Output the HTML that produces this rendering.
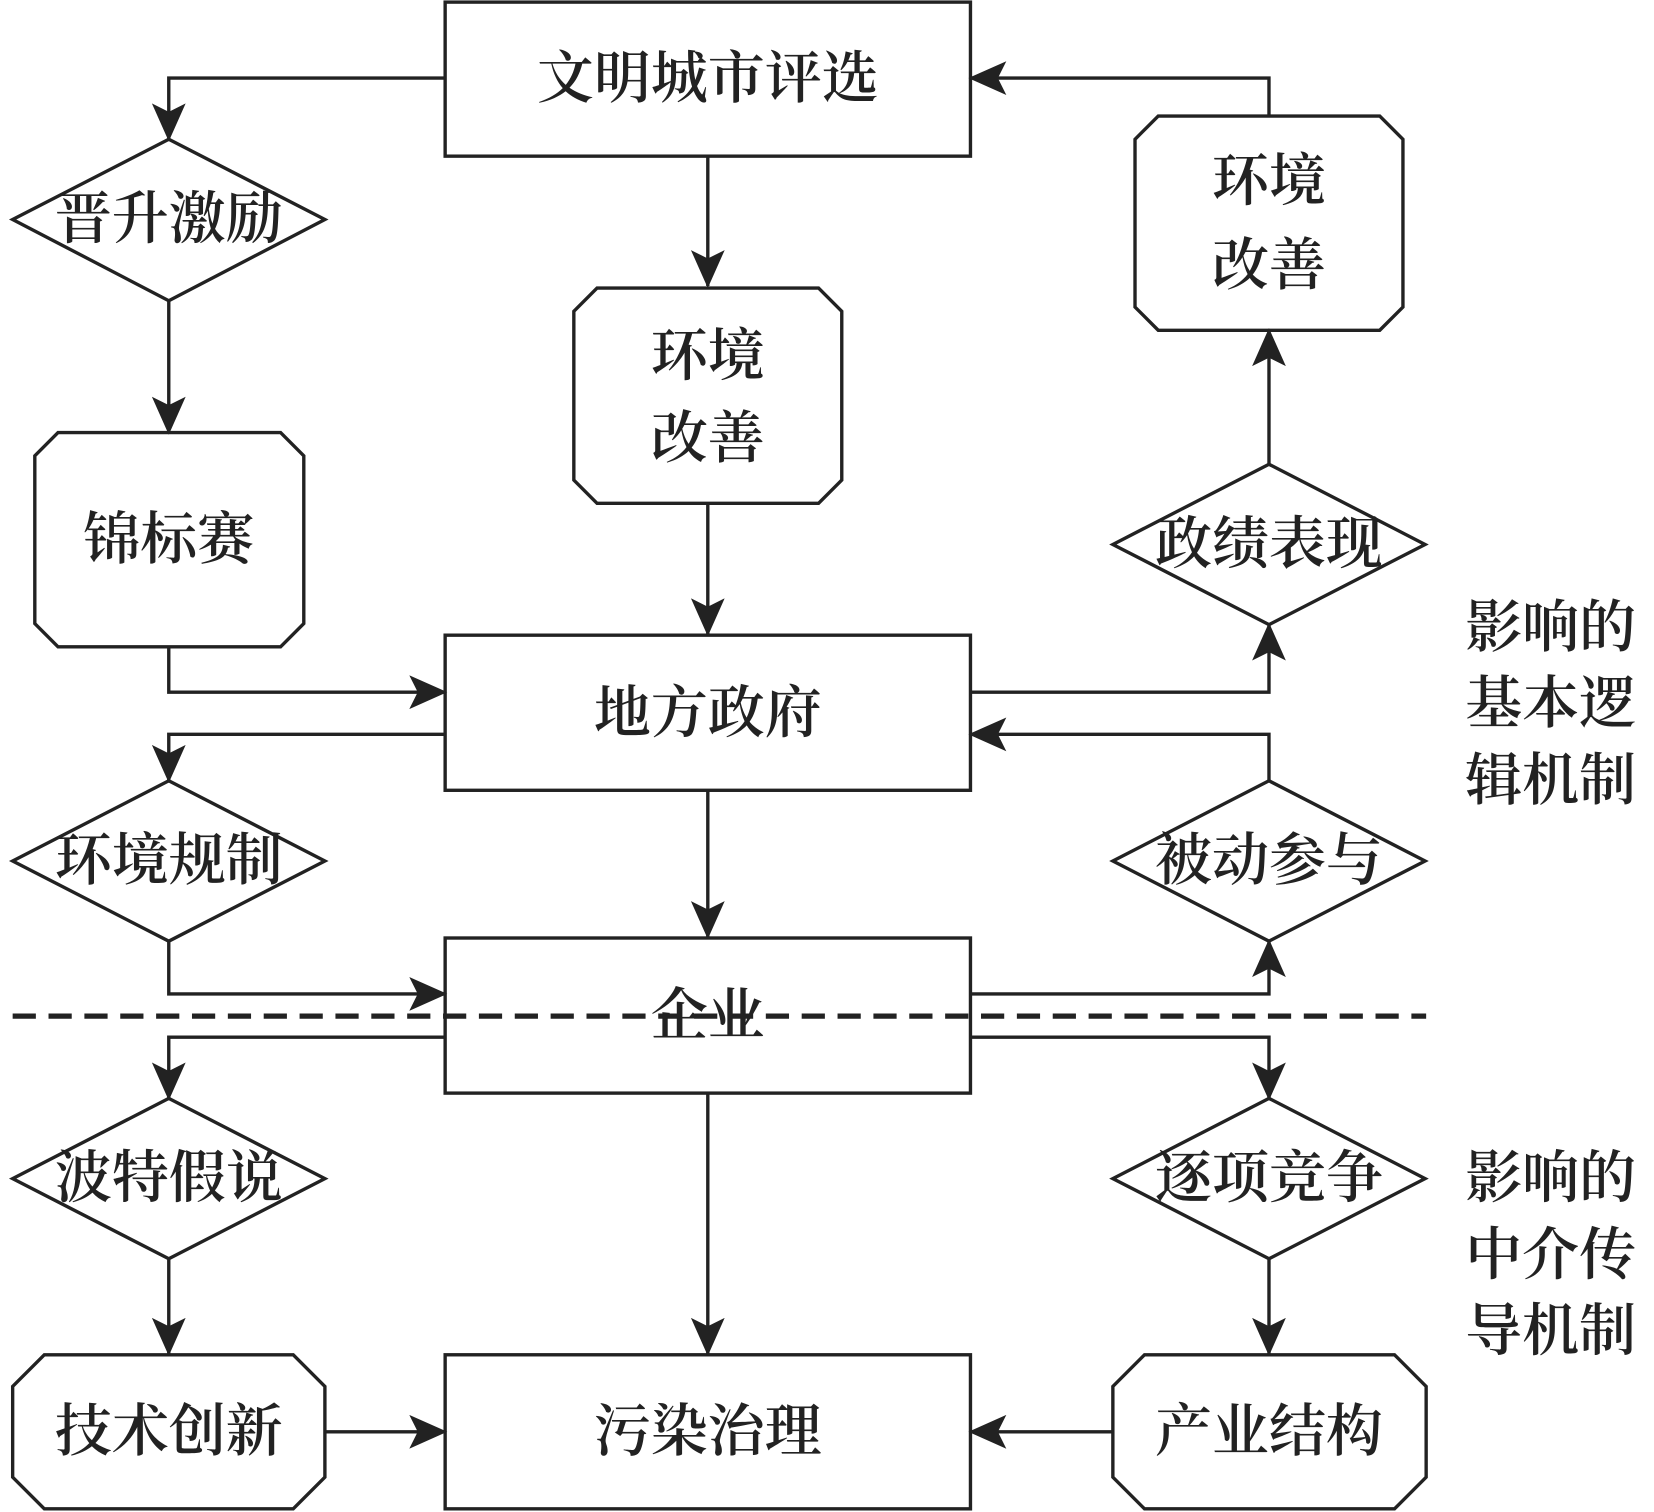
<!DOCTYPE html>
<html><head><meta charset="utf-8"><style>html,body{margin:0;padding:0;background:#fff}svg{display:block}</style></head><body>
<svg width="1654" height="1512" viewBox="0 0 1568 1433" preserveAspectRatio="none" xmlns="http://www.w3.org/2000/svg">
<defs>
<marker id="b" markerWidth="36" markerHeight="36" refX="34" refY="18" orient="auto" markerUnits="userSpaceOnUse" viewBox="0 0 36 36"><path d="M0,2 L36,18 L0,34 L8,18 Z" fill="#222"/></marker></defs>
<g fill="none" stroke="#222" stroke-width="3.2">
<rect x="422" y="2" width="498" height="146" fill="#fff"/>
<rect x="422" y="602" width="498" height="147" fill="#fff"/>
<rect x="422" y="889" width="498" height="147" fill="#fff"/>
<rect x="422" y="1284" width="498" height="146" fill="#fff"/>
<polygon points="12,208 160,132 308,208 160,285"/>
<polygon points="12,816 160,740 308,816 160,892"/>
<polygon points="12,1117 160,1041 308,1117 160,1193"/>
<polygon points="1055,516 1203,440 1351,516 1203,592"/>
<polygon points="1055,816 1203,740 1351,816 1203,892"/>
<polygon points="1055,1117 1203,1041 1351,1117 1203,1193"/>
<polygon points="55,410 266,410 288,432 288,591 266,613 55,613 33,591 33,432"/>
<polygon points="566,273 776,273 798,295 798,455 776,477 566,477 544,455 544,295"/>
<polygon points="1098,110 1308,110 1330,132 1330,291 1308,313 1098,313 1076,291 1076,132"/>
<polygon points="42,1284 278,1284 308,1314 308,1400 278,1430 42,1430 12,1400 12,1314"/>
<polygon points="1085,1284 1322,1284 1352,1314 1352,1400 1322,1430 1085,1430 1055,1400 1055,1314"/>
<g marker-end="url(#b)">
<polyline points="422,74 160,74 160,132"/>
<polyline points="160,285 160,410"/>
<polyline points="160,613 160,656 422,656"/>
<polyline points="671,148 671,271"/>
<polyline points="671,477 671,601"/>
<polyline points="920,656 1203,656 1203,592"/>
<polyline points="1203,440 1203,313"/>
<polyline points="1203,110 1203,74 920,74"/>
<polyline points="422,696 160,696 160,740"/>
<polyline points="160,892 160,942 422,942"/>
<polyline points="671,749 671,888"/>
<polyline points="920,942 1203,942 1203,892"/>
<polyline points="1203,740 1203,696 920,696"/>
<polyline points="422,983 160,983 160,1041"/>
<polyline points="160,1193 160,1283"/>
<polyline points="308,1357 422,1357"/>
<polyline points="671,1036 671,1283"/>
<polyline points="920,983 1203,983 1203,1041"/>
<polyline points="1203,1193 1203,1283"/>
<polyline points="1055,1357 920,1357"/>
</g>
<line x1="12" y1="963" x2="1352" y2="963" stroke-width="5" stroke-dasharray="22,12"/>
</g>
<g font-family="'Liberation Serif','Noto Serif CJK SC',serif" font-size="54" font-weight="600" fill="#222" text-anchor="middle" dominant-baseline="central">
<text x="671" y="75">文明城市评选</text>
<text x="160" y="208">晋升激励</text>
<text x="160" y="512">锦标赛</text>
<text x="671" y="338">环境</text><text x="671" y="416">改善</text>
<text x="1203" y="172">环境</text><text x="1203" y="252">改善</text>
<text x="671" y="676">地方政府</text>
<text x="1203" y="516">政绩表现</text>
<text x="160" y="816">环境规制</text>
<text x="1203" y="816">被动参与</text>
<text x="671" y="963">企业</text>
<text x="160" y="1117">波特假说</text>
<text x="1203" y="1117">逐项竞争</text>
<text x="160" y="1357">技术创新</text>
<text x="671" y="1357">污染治理</text>
<text x="1203" y="1357">产业结构</text>
<text x="1470" y="595">影响的</text><text x="1470" y="667">基本逻</text><text x="1470" y="740">辑机制</text>
<text x="1470" y="1117">影响的</text><text x="1470" y="1190">中介传</text><text x="1470" y="1262">导机制</text>
</g>
</svg></body></html>
